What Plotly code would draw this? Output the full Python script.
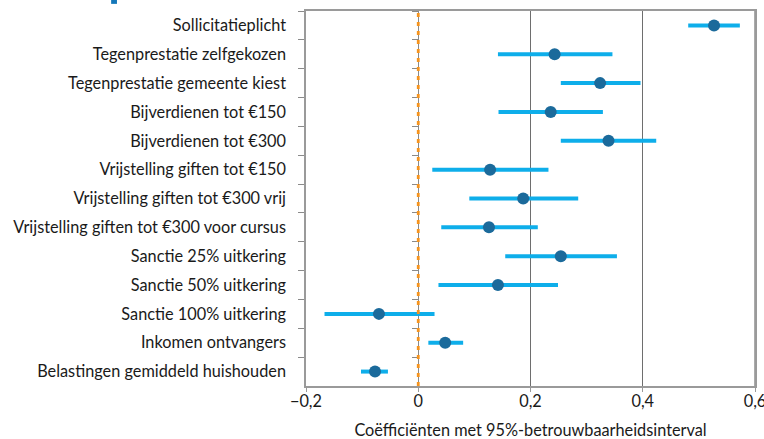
import plotly.graph_objects as go

categories = [
    "Sollicitatieplicht",
    "Tegenprestatie zelfgekozen",
    "Tegenprestatie gemeente kiest",
    "Bijverdienen tot €150",
    "Bijverdienen tot €300",
    "Vrijstelling giften tot €150",
    "Vrijstelling giften tot €300 vrij",
    "Vrijstelling giften tot €300 voor cursus",
    "Sanctie 25% uitkering",
    "Sanctie 50% uitkering",
    "Sanctie 100% uitkering",
    "Inkomen ontvangers",
    "Belastingen gemiddeld huishouden",
]
coef = [0.527, 0.243, 0.324, 0.236, 0.339, 0.128, 0.187, 0.126, 0.254, 0.142, -0.070, 0.048, -0.077]
lower = [0.481, 0.142, 0.254, 0.143, 0.254, 0.025, 0.091, 0.041, 0.155, 0.036, -0.167, 0.018, -0.102]
upper = [0.573, 0.346, 0.396, 0.329, 0.424, 0.232, 0.285, 0.213, 0.354, 0.249, 0.029, 0.080, -0.054]
x_ticks = [-0.2, 0, 0.2, 0.4, 0.6]
x_title = "Coëfficiënten met 95%-betrouwbaarheidsinterval"

FONT = "Lato"
FS = 16.3
err_plus = [u - c for u, c in zip(upper, coef)]
err_minus = [c - l for c, l in zip(coef, lower)]
n = len(categories)
yrange = [n - 0.5, -0.5]
xmin, xmax = x_ticks[0], x_ticks[-1]

fig = go.Figure()
fig.add_trace(go.Scatter(
    x=coef, y=categories, mode="markers",
    marker=dict(color="#1b6a9b", size=12),
    error_x=dict(type="data", symmetric=False, array=err_plus, arrayminus=err_minus,
                 color="#0eaeea", thickness=4, width=0),
    showlegend=False, hoverinfo="skip",
))
# invisible trace carrying the extra tick axes (inner ticks at x = 0, bottom tick marks)
fig.add_trace(go.Scatter(x=coef, y=categories, xaxis="x2", yaxis="y2",
                         mode="markers", marker=dict(opacity=0),
                         showlegend=False, hoverinfo="skip"))

fig.add_shape(type="line", xref="x", yref="paper", x0=0, x1=0, y0=0, y1=1,
              line=dict(color="#f7941d", width=2.8, dash="4px,5px"), layer="above")
# right frame line
fig.add_shape(type="line", xref="x", yref="paper", x0=xmax, x1=xmax, y0=0, y1=1,
              line=dict(color="#8f8f8f", width=1.5), layer="above")
# cut-off title fragment at top-left
fig.add_shape(type="rect", xref="paper", yref="paper", x0=-0.434, x1=-0.421, y0=1.019, y1=1.04,
              fillcolor="#1477b9", line=dict(width=0))

fig.update_layout(
    width=764, height=439,
    margin=dict(l=306, r=9, t=11, b=53, autoexpand=False),
    paper_bgcolor="white", plot_bgcolor="white",
    font=dict(family=FONT, size=FS, color="#1a1a1a"),
    separators=", ",
    xaxis=dict(
        range=[xmin, xmax], tickvals=x_ticks, automargin=False,
        showgrid=True, gridcolor="#6e6e6e", gridwidth=1,
        zeroline=True, zerolinecolor="#8a8a8a", zerolinewidth=1,
        showline=True, linecolor="#9a9a9a", linewidth=1.5, mirror=True,
        ticks="", ticklabeloverflow="allow",
        tickfont=dict(size=FS),
        title=dict(text=x_title, font=dict(size=FS), standoff=21),
    ),
    xaxis2=dict(
        range=[xmin, xmax], tickvals=x_ticks, automargin=False,
        overlaying="x", anchor="y", side="bottom",
        showticklabels=False, showline=False, showgrid=False, zeroline=False,
        ticks="outside", ticklen=5, tickcolor="#9a9a9a",
    ),
    yaxis=dict(
        type="category", categoryorder="array", categoryarray=categories,
        range=yrange, automargin=False,
        showline=True, linecolor="#9a9a9a", linewidth=1.5, mirror=True,
        ticks="outside", ticklen=6, tickcolor="#8a8a8a", tickson="boundaries",
        showgrid=False, ticklabelstandoff=15,
        tickfont=dict(size=FS),
    ),
    yaxis2=dict(
        type="category", categoryorder="array", categoryarray=categories,
        range=yrange, automargin=False,
        overlaying="y", anchor="free",
        position=(0 - xmin) / (xmax - xmin), side="left",
        showticklabels=False, showline=False, showgrid=False,
        ticks="outside", ticklen=6, tickcolor="#8a8a8a", tickson="boundaries",
    ),
)

fig.write_html(
    "out.html",
    config={"displayModeBar": False},
    post_script="document.body.style.margin='0';document.body.style.overflow='hidden';",
)
